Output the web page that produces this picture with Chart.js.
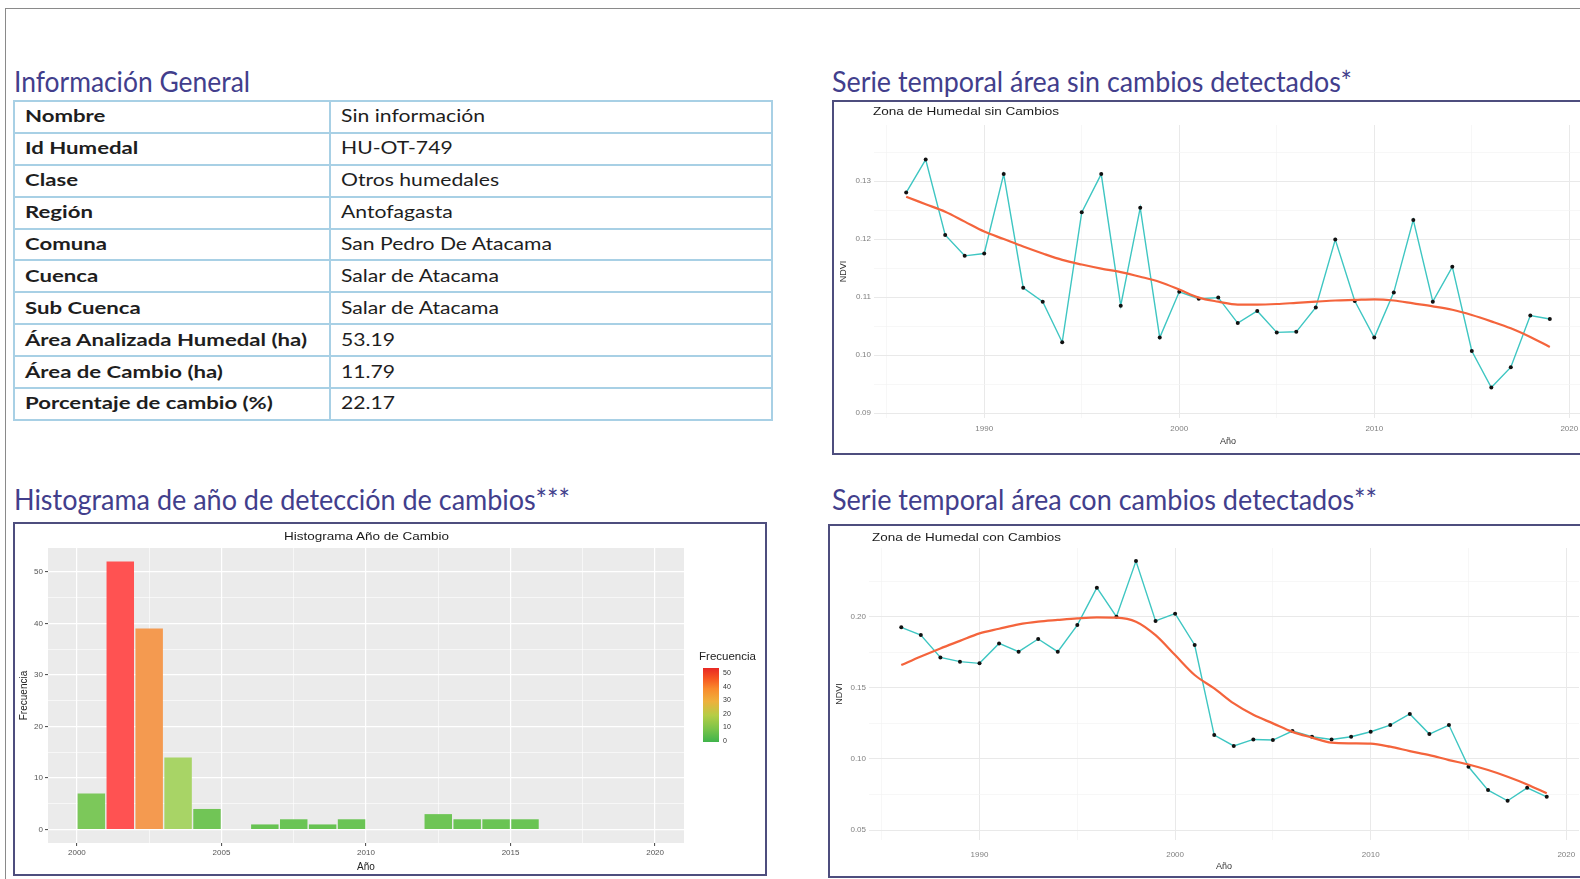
<!DOCTYPE html>
<html lang="es"><head><meta charset="utf-8">
<script src="https://cdn.jsdelivr.net/npm/chart.js@4.4.1/dist/chart.umd.min.js"></script>
<style>
html,body{margin:0;padding:0;background:#fff;}
body{width:1580px;height:879px;overflow:hidden;position:relative;}
#frame{position:absolute;left:5px;top:8px;width:1700px;height:1000px;border-left:1.5px solid #8a8a8a;border-top:1.5px solid #8a8a8a;}
.sec{position:absolute;font-family:Lato,sans-serif;font-size:29px;line-height:29px;color:#423e8c;white-space:nowrap;transform-origin:0 50%;}
.box{position:absolute;border:2px solid #4e4e7e;box-sizing:border-box;background:#fff;}
.ctitle{position:absolute;font-family:'Liberation Sans',Arial,sans-serif;font-size:11px;line-height:12px;color:#1a1a1a;white-space:nowrap;transform-origin:0 50%;}
canvas{position:absolute;}
#info{position:absolute;left:13px;top:100px;width:760px;height:319px;border-collapse:collapse;font-family:Lato,sans-serif;font-size:17px;color:#1e1e1e;}
#info tr{height:31.9px;}
#info td{border:2px solid #a8d0e5;padding:0 0 2px 10px;white-space:nowrap;vertical-align:middle;}
#info td.l{width:304px;font-weight:bold;}
#info td span{display:inline-block;transform-origin:0 50%;}
#legTitle{position:absolute;left:699px;top:651px;font-family:'Liberation Sans',Arial,sans-serif;font-size:10px;line-height:12px;color:#222;white-space:nowrap;transform-origin:0 50%;}
#legBar{position:absolute;left:703px;top:668px;width:16px;height:74px;background:linear-gradient(to top,#3fb44b 0%,#7cc449 18%,#b5cd45 36%,#eeb03c 55%,#f98a2c 72%,#f65520 86%,#e82824 100%);}
.legLab{position:absolute;left:723px;font-family:'Liberation Sans',Arial,sans-serif;font-size:7px;line-height:8px;color:#333;}
</style></head>
<body>
<div id="frame"></div>

<div class="sec" id="t1" style="left:14px;top:66px;">Información General</div>
<div class="sec" id="t2" style="left:832px;top:66px;">Serie temporal área sin cambios detectados*</div>
<div class="sec" id="t3" style="left:14px;top:484px;">Histograma de año de detección de cambios***</div>
<div class="sec" id="t4" style="left:832px;top:484px;">Serie temporal área con cambios detectados**</div>

<table id="info"></table>

<div class="box" style="left:832px;top:100px;width:800px;height:355px;"></div>
<canvas id="cSin" width="760" height="351" style="left:834px;top:102px;"></canvas>
<div class="ctitle" id="ct1" style="left:873px;top:105px;">Zona de Humedal sin Cambios</div>

<div class="box" style="left:828px;top:524px;width:800px;height:354px;"></div>
<canvas id="cCon" width="760" height="350" style="left:830px;top:526px;"></canvas>
<div class="ctitle" id="ct2" style="left:872px;top:531px;">Zona de Humedal con Cambios</div>

<div class="box" style="left:13px;top:522px;width:754px;height:354px;"></div>
<canvas id="cHist" width="750" height="350" style="left:15px;top:524px;"></canvas>
<div class="ctitle" id="ct3" style="left:284px;top:530px;">Histograma Año de Cambio</div>
<div id="legTitle">Frecuencia</div>
<div id="legBar"></div>
<div id="legLabs"></div>

<script>
// ---------- data ----------
const infoLabels = ['Nombre','Id Humedal','Clase','Región','Comuna','Cuenca','Sub Cuenca','Área Analizada Humedal (ha)','Área de Cambio (ha)','Porcentaje de cambio (%)'];
const infoValues = ['Sin información','HU-OT-749','Otros humedales','Antofagasta','San Pedro De Atacama','Salar de Atacama','Salar de Atacama','53.19','11.79','22.17'];

const years = [1986,1987,1988,1989,1990,1991,1992,1993,1994,1995,1996,1997,1998,1999,2000,2001,2002,2003,2004,2005,2006,2007,2008,2009,2010,2011,2012,2013,2014,2015,2016,2017,2018,2019];
const ndviSinCambios = [0.1280,0.1337,0.1207,0.1171,0.1175,0.1312,0.1116,0.1092,0.1022,0.1246,0.1312,0.1085,0.1254,0.1030,0.1109,0.1097,0.1099,0.1055,0.1076,0.1039,0.1040,0.1082,0.1199,0.1093,0.1030,0.1108,0.1233,0.1092,0.1152,0.1007,0.0944,0.0979,0.1068,0.1062];
const tendenciaSinCambios = [0.1273,0.1260,0.1247,0.1230,0.1213,0.1200,0.1187,0.1175,0.1164,0.1156,0.1149,0.1143,0.1135,0.1126,0.1113,0.1099,0.1092,0.1087,0.1087,0.1088,0.1090,0.1092,0.1094,0.1095,0.1096,0.1094,0.1089,0.1084,0.1078,0.1069,0.1058,0.1046,0.1031,0.1014];
const ndviConCambios = [0.1925,0.1871,0.1714,0.1684,0.1672,0.1812,0.1754,0.1843,0.1754,0.1941,0.2204,0.2000,0.2391,0.1970,0.2021,0.1801,0.1168,0.1091,0.1137,0.1133,0.1196,0.1156,0.1137,0.1156,0.1191,0.1238,0.1316,0.1175,0.1238,0.0945,0.0781,0.0706,0.0797,0.0734];
const tendenciaConCambios = [0.1660,0.1720,0.1777,0.1830,0.1883,0.1915,0.1946,0.1965,0.1977,0.1988,0.1995,0.1993,0.1965,0.1870,0.1730,0.1590,0.1496,0.1390,0.1310,0.1250,0.1190,0.1150,0.1114,0.1109,0.1107,0.1086,0.1055,0.1027,0.0992,0.0961,0.0922,0.0875,0.0821,0.0758];

const histYears = [2000,2001,2002,2003,2004,2006,2007,2008,2009,2012,2013,2014,2015];
const histCounts = [7,52,39,14,4,1,2,1,2,3,2,2,2];

const lineXTicks = [1985,1990,1995,2000,2005,2010,2015,2020];
const lineXLabels = [1990,2000,2010,2020];
const sinYTicks = [0.09,0.095,0.10,0.105,0.11,0.115,0.12,0.125,0.13,0.135];
const sinYLabels = [0.09,0.10,0.11,0.12,0.13];
const conYTicks = [0.05,0.075,0.10,0.125,0.15,0.175,0.20,0.225];
const conYLabels = [0.05,0.10,0.15,0.20];
const histXTicks = [2000,2002.5,2005,2007.5,2010,2012.5,2015,2017.5,2020];
const histXLabels = [2000,2005,2010,2015,2020];
const histYTicks = [0,5,10,15,20,25,30,35,40,45,50];
const histYLabels = [0,10,20,30,40,50];
const legendTicks = [0,10,20,30,40,50];

// ---------- table ----------
const tbl = document.getElementById('info');
infoLabels.forEach((lab, i) => {
  const tr = document.createElement('tr');
  tr.innerHTML = '<td class="l"><span>' + lab + '</span></td><td class="r"><span>' + infoValues[i] + '</span></td>';
  tbl.appendChild(tr);
});

// ---------- legend labels ----------
const legLabs = document.getElementById('legLabs');
legendTicks.forEach(v => {
  const d = document.createElement('div');
  d.className = 'legLab';
  d.textContent = v;
  d.style.top = (741 - v * 1.36 - 4) + 'px';
  legLabs.appendChild(d);
});

// ---------- text fitting ----------
function fitW(el, w) {
  el.style.transform = 'none';
  const cur = el.getBoundingClientRect().width;
  if (cur > 0) el.style.transform = 'scaleX(' + (w / cur) + ')';
}
function fitAll() {
  fitW(document.getElementById('t1'), 236);
  fitW(document.getElementById('t2'), 520);
  fitW(document.getElementById('t3'), 556);
  fitW(document.getElementById('t4'), 545);
  fitW(document.getElementById('ct1'), 186);
  fitW(document.getElementById('ct2'), 189);
  fitW(document.getElementById('ct3'), 165);
  fitW(document.getElementById('legTitle'), 57);
  const ls = [...document.querySelectorAll('#info td.l span')];
  const rs = [...document.querySelectorAll('#info td.r span')];
  ls.forEach(s => s.style.transform = 'none');
  rs.forEach(s => s.style.transform = 'none');
  const kl = 282 / ls[7].getBoundingClientRect().width;
  const kr = 211 / rs[4].getBoundingClientRect().width;
  ls.forEach(s => s.style.transform = 'scaleX(' + kl + ')');
  rs.forEach(s => s.style.transform = 'scaleX(' + kr + ')');
}
fitAll();
if (document.fonts && document.fonts.ready) document.fonts.ready.then(fitAll);

// ---------- chart helpers ----------
const inList = (list, v) => list.some(m => Math.abs(m - v) < 1e-6);
const setTicks = list => s => { s.ticks = list.map(v => ({ value: v })); };
const tickFont = { size: 8, family: "'Liberation Sans', Arial, sans-serif" };

function makeLine(id, vals, trend, cfg) {
  const pts = years.map((y, i) => ({ x: y, y: vals[i] }));
  const tr = years.map((y, i) => ({ x: y, y: trend[i] }));
  new Chart(document.getElementById(id), {
    type: 'line',
    data: { datasets: [
      { data: tr, borderColor: '#f4643c', borderWidth: 2.2, pointRadius: 0, cubicInterpolationMode: 'monotone', order: 0 },
      { data: pts, borderColor: '#3ec6c2', borderWidth: 1.4, pointRadius: 2, pointBackgroundColor: '#111', pointBorderWidth: 0, tension: 0, order: 1 }
    ] },
    options: {
      responsive: false, animation: false, events: [],
      layout: { padding: cfg.pad },
      plugins: { legend: { display: false }, tooltip: { enabled: false }, title: { display: false } },
      scales: {
        x: {
          type: 'linear', min: 1984.35, max: 2020.65,
          afterBuildTicks: setTicks(lineXTicks),
          afterFit: s => { s.height = cfg.xH; },
          ticks: { autoSkip: false, maxRotation: 0, padding: cfg.xPad, color: '#808080', font: tickFont,
                   callback: v => inList(lineXLabels, v) ? String(v) : '' },
          grid: { drawTicks: false, color: c => inList(lineXLabels, c.tick.value) ? '#e9e9e9' : '#f4f4f4',
                  lineWidth: c => inList(lineXLabels, c.tick.value) ? 1 : 0.7 },
          border: { display: false },
          title: { display: true, text: 'Año', color: '#333', font: { size: 9, family: "'Liberation Sans', Arial, sans-serif" }, padding: { top: 0, bottom: cfg.xtPad } }
        },
        y: {
          type: 'linear', min: cfg.yMin, max: cfg.yMax,
          afterBuildTicks: setTicks(cfg.yTicks),
          afterFit: s => { s.width = cfg.yW; },
          ticks: { autoSkip: false, padding: 3, color: '#808080', font: tickFont,
                   callback: v => inList(cfg.yLabels, v) ? v.toFixed(2) : '' },
          grid: { drawTicks: false, color: c => inList(cfg.yLabels, c.tick.value) ? '#e9e9e9' : '#f4f4f4',
                  lineWidth: c => inList(cfg.yLabels, c.tick.value) ? 1 : 0.7 },
          border: { display: false },
          title: { display: true, text: 'NDVI', color: '#333', font: { size: 9, family: "'Liberation Sans', Arial, sans-serif" }, padding: { top: 4, bottom: 0 } }
        }
      }
    }
  });
}

makeLine('cSin', ndviSinCambios, tendenciaSinCambios, {
  pad: { top: 23, right: 12, left: 0, bottom: 0 }, xH: 35, yW: 40, xPad: 6, xtPad: 6,
  yMin: 0.08914, yMax: 0.13966, yTicks: sinYTicks, yLabels: sinYLabels
});
makeLine('cCon', ndviConCambios, tendenciaConCambios, {
  pad: { top: 22, right: 11, left: 0, bottom: 0 }, xH: 36, yW: 39, xPad: 10, xtPad: 4,
  yMin: 0.043, yMax: 0.2483, yTicks: conYTicks, yLabels: conYLabels
});

// ---------- histogram ----------
const fillStops = [[0, [99, 194, 81]], [7, [124, 200, 90]], [14, [168, 212, 102]], [39, [244, 154, 80]], [52, [255, 82, 82]]];
function fillFor(v) {
  for (let i = 1; i < fillStops.length; i++) {
    const [v0, c0] = fillStops[i - 1], [v1, c1] = fillStops[i];
    if (v <= v1) {
      const t = (v - v0) / (v1 - v0);
      return 'rgb(' + c0.map((c, k) => Math.round(c + (c1[k] - c) * t)).join(',') + ')';
    }
  }
  return 'rgb(255,82,82)';
}
const panelBg = {
  id: 'panelBg',
  beforeDraw(chart) {
    const { ctx, chartArea: a } = chart;
    ctx.save(); ctx.fillStyle = '#ebebeb';
    ctx.fillRect(a.left, a.top, a.right - a.left, a.bottom - a.top);
    ctx.restore();
  }
};
new Chart(document.getElementById('cHist'), {
  type: 'bar',
  data: { datasets: [{
    data: histYears.map((y, i) => ({ x: y + 0.5, y: histCounts[i] })),
    backgroundColor: histCounts.map(fillFor), borderWidth: 0,
    barPercentage: 0.95, categoryPercentage: 1
  }] },
  plugins: [panelBg],
  options: {
    responsive: false, animation: false, events: [],
    layout: { padding: { top: 24, right: 81, left: 0, bottom: 0 } },
    plugins: { legend: { display: false }, tooltip: { enabled: false } },
    scales: {
      x: {
        type: 'linear', min: 1999, max: 2021, offset: false,
        afterBuildTicks: setTicks(histXTicks),
        afterFit: s => { s.height = 31; },
        ticks: { autoSkip: false, maxRotation: 0, padding: 2, color: '#555', font: tickFont,
                 callback: v => inList(histXLabels, v) ? String(v) : '' },
        grid: { offset: false, drawTicks: true, tickLength: 3, tickWidth: 1,
                tickColor: c => inList(histXLabels, c.tick.value) ? '#444' : 'rgba(0,0,0,0)',
                color: '#ffffff', lineWidth: c => inList(histXLabels, c.tick.value) ? 1.2 : 0.6 },
        border: { display: false },
        title: { display: true, text: 'Año', color: '#222', font: { size: 10, family: "'Liberation Sans', Arial, sans-serif" }, padding: { top: 0, bottom: 1 } }
      },
      y: {
        type: 'linear', min: -2.6, max: 54.6,
        afterBuildTicks: setTicks(histYTicks),
        afterFit: s => { s.width = 33; },
        ticks: { autoSkip: false, padding: 2, color: '#555', font: tickFont,
                 callback: v => inList(histYLabels, v) ? String(v) : '' },
        grid: { drawTicks: true, tickLength: 3, tickWidth: 1,
                tickColor: c => inList(histYLabels, c.tick.value) ? '#444' : 'rgba(0,0,0,0)',
                color: '#ffffff', lineWidth: c => inList(histYLabels, c.tick.value) ? 1.2 : 0.6 },
        border: { display: false },
        title: { display: true, text: 'Frecuencia', color: '#222', font: { size: 10, family: "'Liberation Sans', Arial, sans-serif" }, padding: { top: 3, bottom: 0 } }
      }
    }
  }
});
</script>
</body></html>
